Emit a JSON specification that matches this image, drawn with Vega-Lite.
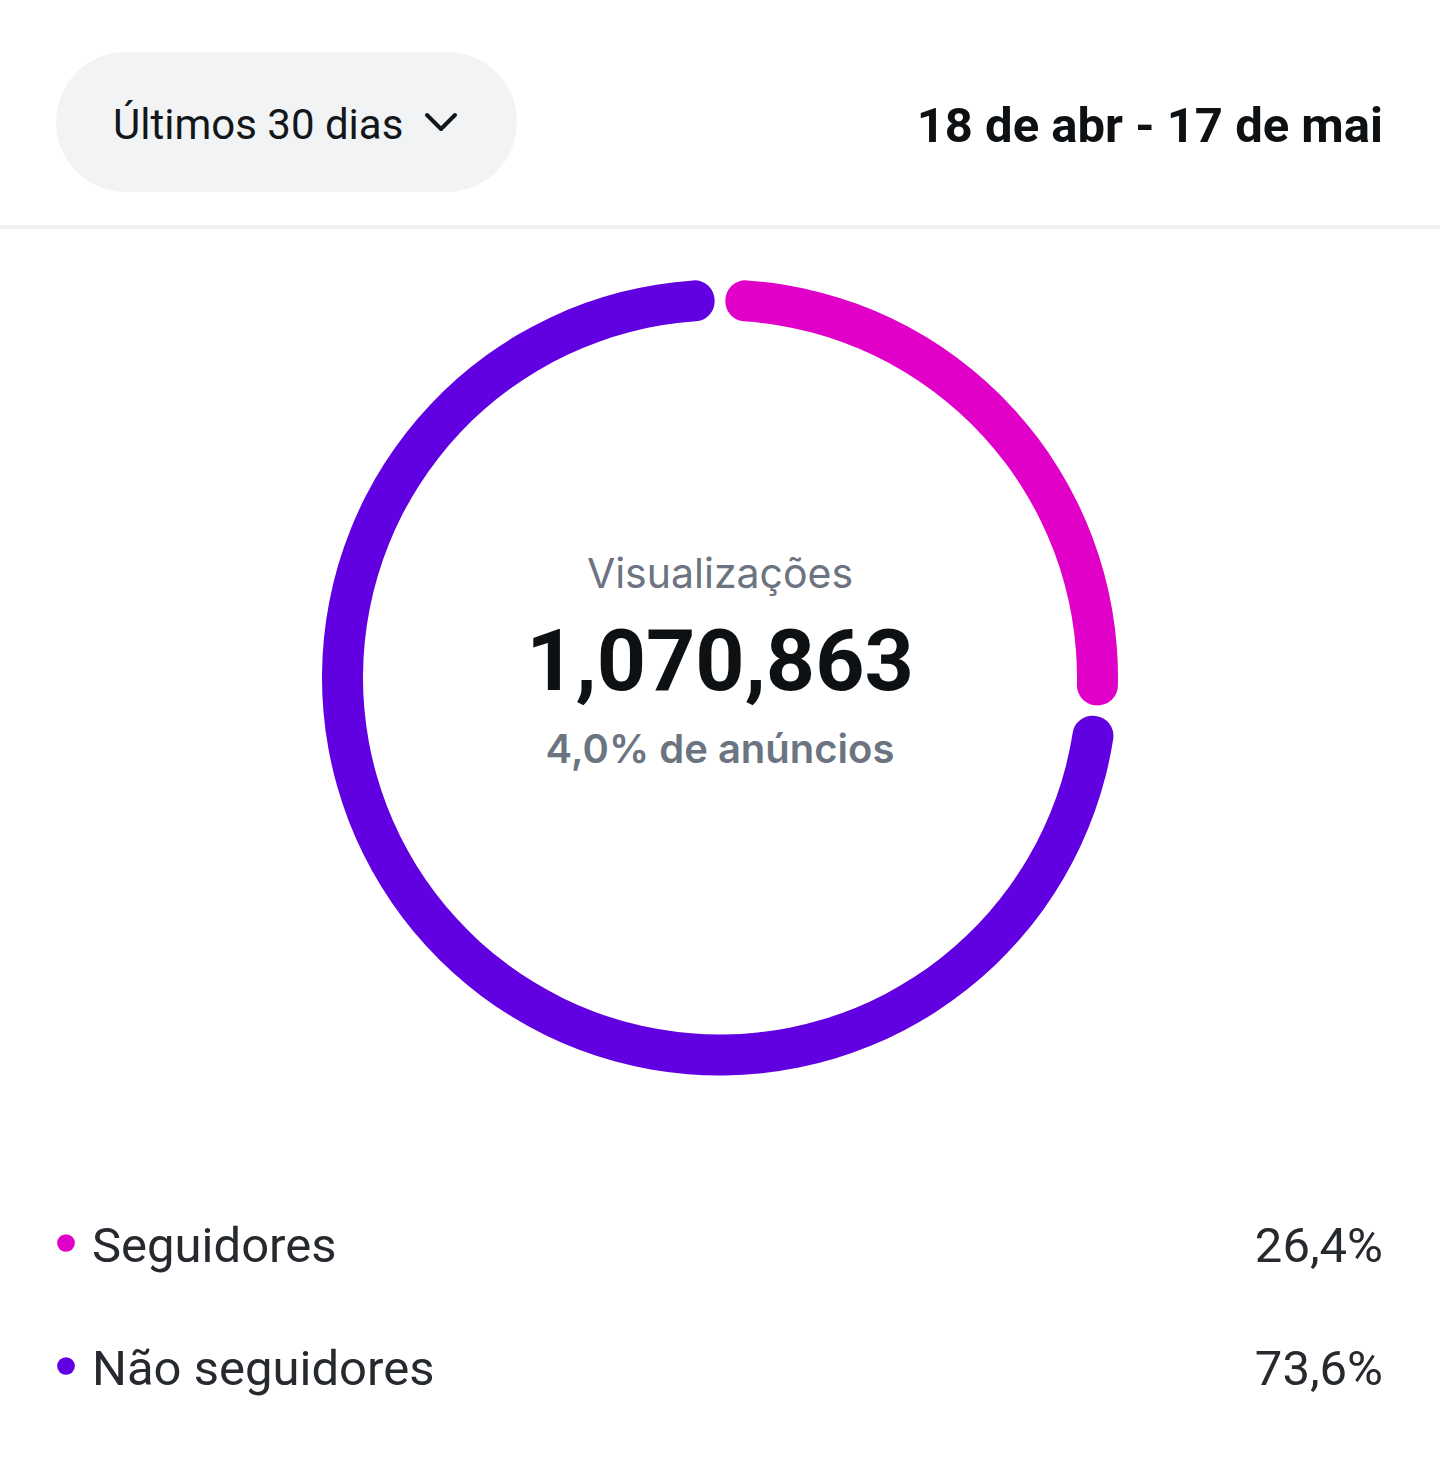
{
  "$schema": "https://vega.github.io/schema/vega-lite/v6.json",
  "width": 1440,
  "height": 1463,
  "padding": 0,
  "autosize": {"type": "fit", "contains": "padding"},
  "background": "#FFFFFF",
  "config": {"view": {"stroke": null}},
  "datasets": {
    "cabecalho": [{"periodo": "Últimos 30 dias", "intervalo": "18 de abr - 17 de mai"}],
    "publico": [
      {"grupo": "Seguidores", "share": 0.264},
      {"grupo": "Não seguidores", "share": 0.736}
    ],
    "resumo": [{"metrica": "Visualizações", "total": 1070863, "anuncios": 0.04}]
  },
  "layer": [
    {
      "data": {"name": "cabecalho"},
      "mark": {"type": "rect", "cornerRadius": 70, "color": "#F2F3F5"},
      "encoding": {"x": {"value": 56}, "x2": {"value": 517}, "y": {"value": 52}, "y2": {"value": 192}}
    },
    {
      "data": {"name": "cabecalho"},
      "mark": {"type": "text", "font": "Roboto", "fontSize": 42, "color": "#14171A", "align": "left", "baseline": "alphabetic"},
      "encoding": {"x": {"value": 113}, "y": {"value": 139}, "text": {"field": "periodo"}}
    },
    {
      "data": {"name": "cabecalho"},
      "mark": {"type": "point", "shape": "M-1,-0.5L0,0.5L1,-0.5", "filled": false, "color": "#14171A", "strokeWidth": 4, "size": 784, "opacity": 1, "strokeCap": "round", "strokeJoin": "round"},
      "encoding": {"x": {"value": 441}, "y": {"value": 122}}
    },
    {
      "data": {"name": "cabecalho"},
      "mark": {"type": "text", "font": "Roboto", "fontWeight": "bold", "fontSize": 49, "color": "#0E1114", "align": "right", "baseline": "alphabetic"},
      "encoding": {"x": {"value": 1383}, "y": {"value": 142}, "text": {"field": "intervalo"}}
    },
    {
      "data": {"name": "cabecalho"},
      "mark": {"type": "rect", "color": "#F0F1F3"},
      "encoding": {"x": {"value": 0}, "x2": {"value": 1440}, "y": {"value": 225}, "y2": {"value": 229}}
    },
    {
      "data": {"name": "publico"},
      "mark": {"type": "arc", "radius": 398, "radius2": 357, "cornerRadius": 20, "padAngle": 0.02},
      "encoding": {
        "x": {"value": 720},
        "y": {"value": 677.5},
        "theta": {"field": "share", "type": "quantitative", "stack": true},
        "order": {"field": "share", "sort": "ascending"},
        "color": {"field": "grupo", "type": "nominal", "scale": {"domain": ["Seguidores", "Não seguidores"], "range": ["#E000C8", "#6100E0"]}, "legend": null}
      }
    },
    {
      "data": {"name": "resumo"},
      "mark": {"type": "text", "font": "Inter", "fontSize": 41, "color": "#6B7480", "align": "center", "baseline": "alphabetic"},
      "encoding": {"x": {"value": 720}, "y": {"value": 588}, "text": {"field": "metrica"}}
    },
    {
      "data": {"name": "resumo"},
      "mark": {"type": "text", "font": "Roboto", "fontWeight": "bold", "fontSize": 86, "color": "#0E1114", "align": "center", "baseline": "alphabetic"},
      "encoding": {"x": {"value": 720}, "y": {"value": 690}, "text": {"field": "total", "type": "quantitative", "format": ",d"}}
    },
    {
      "data": {"name": "resumo"},
      "mark": {"type": "text", "font": "Inter", "fontWeight": 600, "fontSize": 40, "color": "#6B7480", "align": "center", "baseline": "alphabetic", "text": {"expr": "replace(format(datum.anuncios, '.1%'), '.', ',') + ' de anúncios'"}},
      "encoding": {"x": {"value": 720}, "y": {"value": 763}}
    },
    {
      "data": {"name": "publico"},
      "mark": {"type": "point", "filled": true, "shape": "circle", "size": 314, "opacity": 1},
      "encoding": {
        "x": {"value": 66},
        "y": {"field": "grupo", "type": "nominal", "scale": {"type": "point", "domain": ["Seguidores", "Não seguidores"], "range": [1243, 1366], "padding": 0}, "axis": null},
        "color": {"field": "grupo", "type": "nominal", "legend": null}
      }
    },
    {
      "data": {"name": "publico"},
      "mark": {"type": "text", "font": "Roboto", "fontSize": 49, "color": "#262A2E", "align": "left", "baseline": "alphabetic", "dy": 19},
      "encoding": {
        "x": {"value": 92},
        "y": {"field": "grupo", "type": "nominal", "axis": null},
        "text": {"field": "grupo"}
      }
    },
    {
      "data": {"name": "publico"},
      "mark": {"type": "text", "font": "Roboto", "fontSize": 49, "color": "#262A2E", "align": "right", "baseline": "alphabetic", "dy": 19, "text": {"expr": "replace(format(datum.share, '.1%'), '.', ',')"}},
      "encoding": {
        "x": {"value": 1383},
        "y": {"field": "grupo", "type": "nominal", "axis": null}
      }
    }
  ]
}
